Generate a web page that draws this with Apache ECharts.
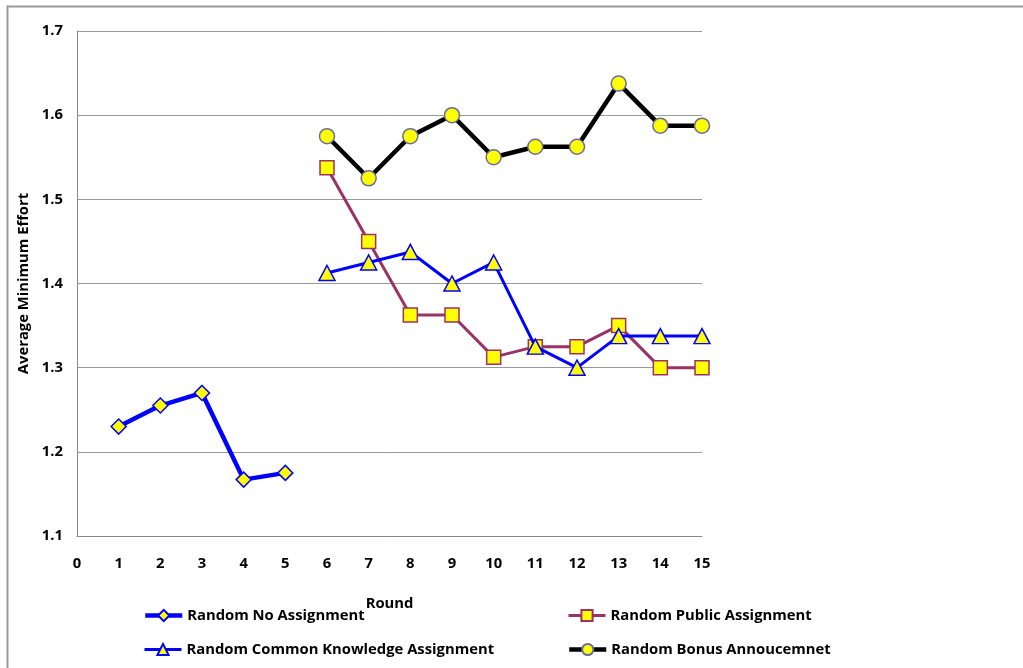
<!DOCTYPE html>
<html><head><meta charset="utf-8">
<script src="https://cdn.jsdelivr.net/npm/echarts@6/dist/echarts.min.js"></script>
<style>html,body{margin:0;padding:0;background:#fff}#c{width:1023px;height:668px}</style>
</head><body><div id="c"></div>
<script>
var noAssignmentRounds = [1,2,3,4,5];
var noAssignment = [1.230,1.255,1.270,1.167,1.175];
var laterRounds = [6,7,8,9,10,11,12,13,14,15];
var publicAssign = [1.5375,1.45,1.3625,1.3625,1.3125,1.325,1.325,1.35,1.30,1.30];
var commonKnowledge = [1.4125,1.425,1.4375,1.40,1.425,1.325,1.30,1.3375,1.3375,1.3375];
var bonus = [1.575,1.525,1.575,1.60,1.55,1.5625,1.5625,1.6375,1.5875,1.5875];
var seriesNames = ['Random No Assignment','Random Public Assignment','Random Common Knowledge Assignment','Random Bonus Annoucemnet'];

function pairs(xs, ys){ return ys.map(function(v,i){ return [xs[i], v]; }); }
var FONT = '"Open Sans", sans-serif';
var lblStyle = {fontFamily: FONT, fontWeight: 'bold', fontSize: 14.8, color: '#000'};

var chart = echarts.init(document.getElementById('c'), null, {renderer:'canvas'});
function legendAt(name, left, top, lw){
  return {data:[name], left:left, top:top, itemWidth:37, itemHeight:14, itemGap:0, padding:0,
    lineStyle:{width:lw},
    textStyle:{fontFamily:FONT, fontWeight:'bold', fontSize:14.8, color:'#000'}, selectedMode:false};
}
chart.setOption({
  animation:false,
  graphic:[{type:'rect', shape:{x:7.5,y:6.5,width:1100,height:800}, style:{fill:'none', stroke:'#999', lineWidth:2}, silent:true}],
  grid:{left:77, right:321, top:31, bottom:132},
  legend:[
    legendAt(seriesNames[0], 143, 608, 4.5),
    legendAt(seriesNames[1], 567, 608, 3),
    legendAt(seriesNames[2], 143, 642, 3),
    legendAt(seriesNames[3], 567, 642, 4.5)
  ],
  xAxis:{type:'value', min:0, max:15, interval:1, name:'Round', nameLocation:'middle', nameGap:60,
    nameTextStyle:lblStyle,
    axisLine:{show:true, lineStyle:{color:'#888', width:1}}, axisTick:{show:false},
    axisLabel:Object.assign({margin:20}, lblStyle), splitLine:{show:false}},
  yAxis:{type:'value', min:1.1, max:1.7, interval:0.1, name:'Average Minimum Effort', nameLocation:'middle', nameGap:44,
    nameTextStyle:lblStyle,
    axisLine:{show:true, lineStyle:{color:'#888', width:1}}, axisTick:{show:false},
    axisLabel:Object.assign({margin:14, formatter:function(v){return v.toFixed(1);}}, lblStyle),
    splitLine:{show:true, lineStyle:{color:'#999', width:1}}},
  series:[
    {name:seriesNames[0], type:'line', data:pairs(noAssignmentRounds, noAssignment), symbol:'diamond', symbolSize:15,
      lineStyle:{color:'#0000ff', width:4.5}, itemStyle:{color:'#ffff00', borderColor:'#0000ff', borderWidth:1.5}, z:3},
    {name:seriesNames[1], type:'line', data:pairs(laterRounds, publicAssign), symbol:'rect', symbolSize:14,
      lineStyle:{color:'#993366', width:3}, itemStyle:{color:'#ffff00', borderColor:'#993366', borderWidth:1.5}, z:2},
    {name:seriesNames[2], type:'line', data:pairs(laterRounds, commonKnowledge), symbol:'triangle', symbolSize:[16,15],
      lineStyle:{color:'#0000ff', width:3}, itemStyle:{color:'#ffff00', borderColor:'#0000ff', borderWidth:1.5}, z:4},
    {name:seriesNames[3], type:'line', data:pairs(laterRounds, bonus), symbol:'circle', symbolSize:15,
      lineStyle:{color:'#000000', width:4.5}, itemStyle:{color:'#ffff00', borderColor:'#6a6aa0', borderWidth:1.5}, z:3}
  ]
});
</script></body></html>
